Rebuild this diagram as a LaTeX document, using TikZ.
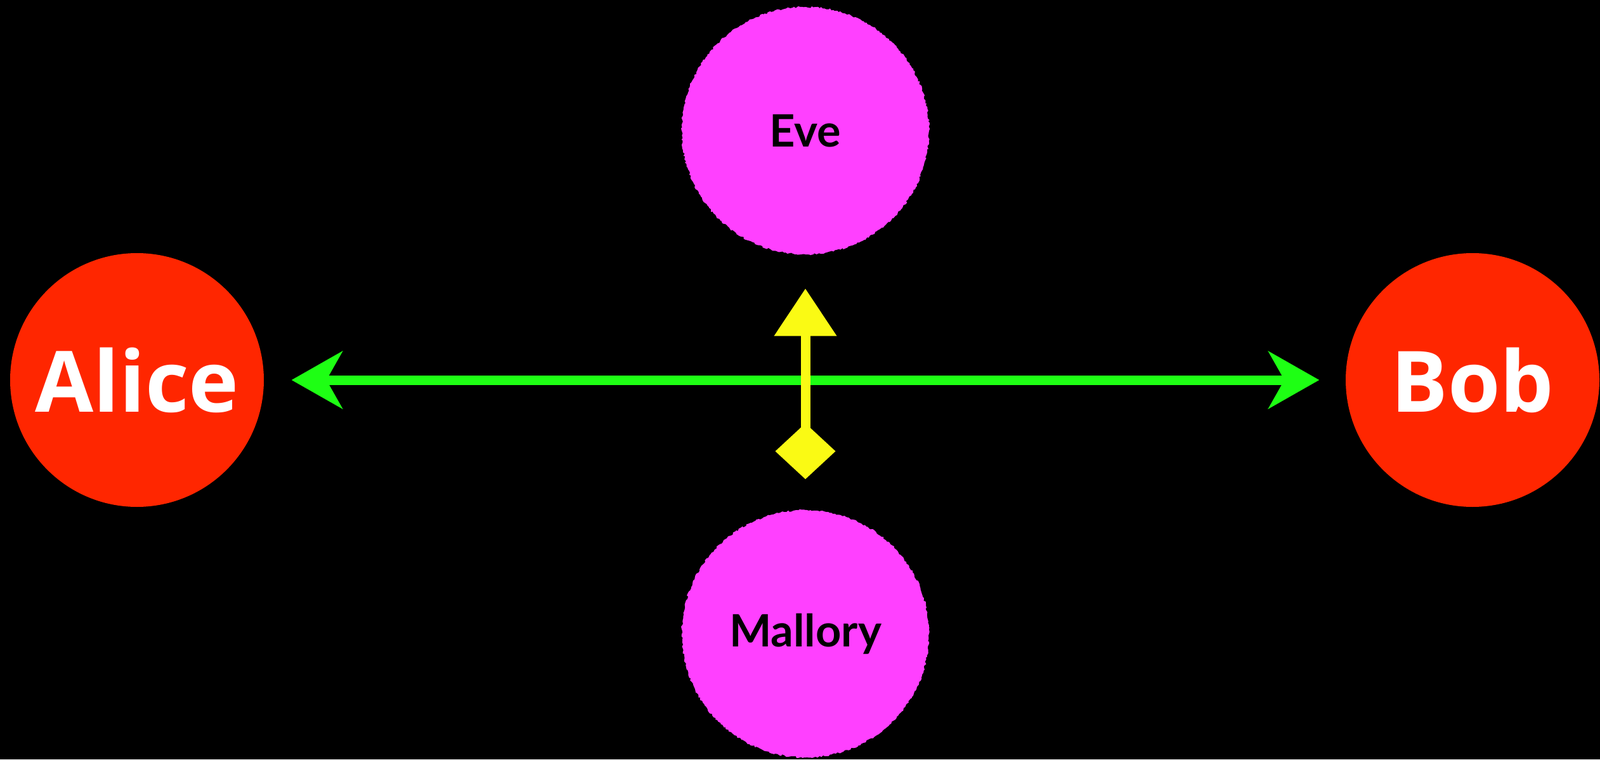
\documentclass[tikz,border=0pt]{standalone}
\usepackage{fontspec}
\usepackage{tikz}
\usetikzlibrary{arrows.meta}
\usetikzlibrary{decorations.pathmorphing}
\newfontfamily\namefont{Open Sans}
\newfontfamily\spyfont{Lato}
\definecolor{keyred}{RGB}{255,38,0}
\definecolor{keypink}{RGB}{255,64,255}
\definecolor{keygreen}{RGB}{30,255,20}
\definecolor{keyyellow}{RGB}{250,250,20}

\begin{document}
\begin{tikzpicture}[line cap=round,line join=round,x=1.0cm,y=1.0cm,
    person/.style={circle,fill=keyred,minimum size=4cm,inner sep=0pt,text=white,font=\namefont\bfseries\fontsize{38}{40}\selectfont},
    spy/.style={circle,fill=keypink,minimum size=3.9cm,inner sep=0pt,text=black,font=\spyfont\bfseries\fontsize{20}{22}\selectfont,
      decorate,decoration={random steps,segment length=0.8pt,amplitude=0.4pt}}]
    \fill[black] (0,0) rectangle (25.23,11.97);
    % the two ends of the channel
    \node[person] (alice) at (2.16,5.98) {Alice};
    \node[person] (bob) at (23.22,5.98) {Bob};
    % listener and attacker
    \node[spy] (eve) at (12.70,9.91) {Eve};
    \node[spy] (mallory) at (12.70,1.98) {Mallory};
    \draw[keygreen,line width=0.15cm,{Stealth[length=0.8cm,width=0.9cm,inset=0.25cm]}-{Stealth[length=0.8cm,width=0.9cm,inset=0.25cm]},
      shorten <=0.43cm,shorten >=0.41cm] (alice) -- (bob);
    \draw[keyyellow,line width=0.15cm,{Diamond[length=0.88cm,width=0.95cm]}-{Triangle[length=0.75cm,width=0.95cm]},
      shorten <=0.48cm,shorten >=0.53cm] (mallory) -- (eve);
\end{tikzpicture}
\end{document}
